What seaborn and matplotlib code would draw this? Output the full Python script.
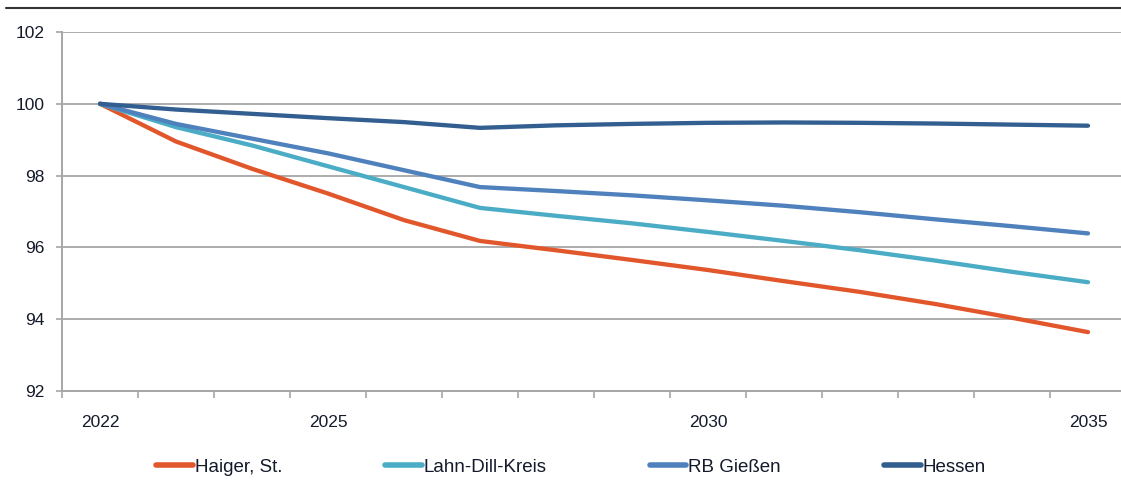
import matplotlib
matplotlib.use("Agg")
import matplotlib.pyplot as plt
from matplotlib.lines import Line2D
from matplotlib.ticker import FixedLocator, NullFormatter
import seaborn as sns
import pandas as pd

years = list(range(2022, 2036))
series_names = ["Haiger, St.", "Lahn-Dill-Kreis", "RB Gießen", "Hessen"]
haiger = [100, 98.95, 98.19, 97.50, 96.76, 96.18, 95.92, 95.65, 95.37, 95.06, 94.76, 94.42, 94.04, 93.64]
lahn_dill = [100, 99.35, 98.84, 98.26, 97.68, 97.10, 96.88, 96.67, 96.43, 96.18, 95.92, 95.63, 95.32, 95.03]
rb_giessen = [100, 99.44, 99.03, 98.62, 98.15, 97.68, 97.57, 97.45, 97.31, 97.16, 96.98, 96.78, 96.59, 96.39]
hessen = [100, 99.84, 99.72, 99.60, 99.49, 99.33, 99.40, 99.44, 99.47, 99.48, 99.47, 99.45, 99.42, 99.39]
colors = ["#E2562B", "#4BACC6", "#4F81BD", "#325E90"]
labeled_years = [2022, 2025, 2030, 2035]
y_ticks = [92, 94, 96, 98, 100, 102]

rows = []
for name, vals in zip(series_names, [haiger, lahn_dill, rb_giessen, hessen]):
    for yr, v in zip(years, vals):
        rows.append({"year": yr, "value": v, "series": name})
df = pd.DataFrame(rows)

sns.set_theme(style="white")
plt.rcParams["font.family"] = ["Liberation Sans", "DejaVu Sans"]

fig = plt.figure(figsize=(11.21, 5.0), dpi=100)
ax = fig.add_axes([62 / 1121, 1 - 391 / 500, 1 - 62 / 1121, (391 - 32) / 500])

sns.lineplot(data=df, x="year", y="value", hue="series", hue_order=series_names,
             palette=colors, linewidth=3.1, ax=ax, sort=False,
             solid_capstyle="round", legend=True)

ax.set_xlim(2021.5, 2021.5 + (1121 - 62) / 76)
ax.set_ylim(92, 102)
ax.set_xlabel("")
ax.set_ylabel("")

ax.set_yticks(y_ticks)
ax.set_yticklabels([str(t) for t in y_ticks], fontsize=12.5, color="#141a2a")
ax.yaxis.grid(True, color="#A6A6A6", linewidth=1.3)
ax.xaxis.grid(False)
ax.tick_params(axis="y", which="major", length=4.5, width=1.2, color="#A6A6A6",
               pad=8, left=True)

ax.set_xticks(labeled_years)
ax.set_xticklabels([str(y) for y in labeled_years], fontsize=12.5, color="#141a2a")
ax.tick_params(axis="x", which="major", length=0, pad=17)
ax.xaxis.set_minor_locator(FixedLocator([y - 0.5 for y in years]))
ax.xaxis.set_minor_formatter(NullFormatter())
ax.tick_params(axis="x", which="minor", length=5, width=1.2, color="#A6A6A6",
               direction="out", bottom=True)

for s in ["top", "right"]:
    ax.spines[s].set_visible(False)
for s in ["left", "bottom"]:
    ax.spines[s].set_color("#A6A6A6")
    ax.spines[s].set_linewidth(1.4)

ax.get_legend().remove()
new_handles = [Line2D([0], [0], color=c, linewidth=4, solid_capstyle="round") for c in colors]
fig.legend(new_handles, series_names, loc="center", bbox_to_anchor=(571 / 1121, 1 - 467 / 500),
           ncol=4, frameon=False, handlelength=1.95, handletextpad=0.1,
           columnspacing=5.5, labelcolor="#141a2a",
           prop={"family": ["Liberation Sans", "DejaVu Sans"], "size": 13.5})

fig.add_artist(Line2D([6 / 1121, 1.0], [1 - 8 / 500, 1 - 8 / 500], color="#333333",
                      linewidth=1.5, transform=fig.transFigure))

fig.savefig("out.png", dpi=100)
